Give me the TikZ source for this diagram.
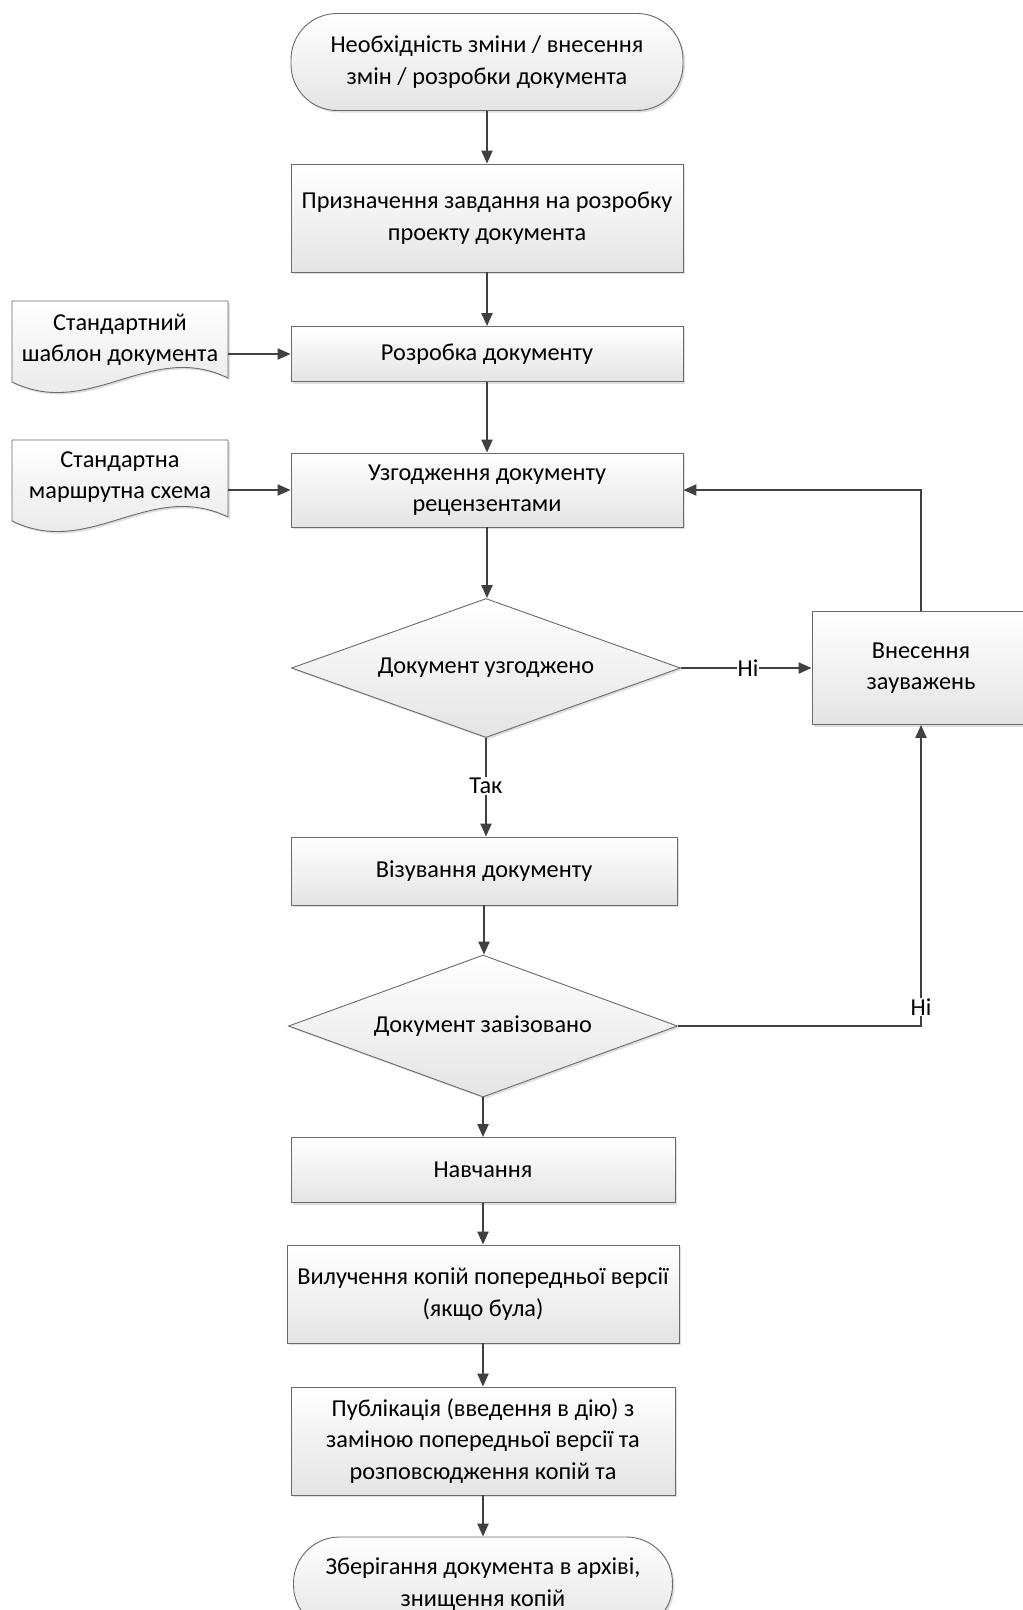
\documentclass[tikz,border=0pt]{standalone}
\usepackage{fontspec}
\setmainfont{Carlito}
\usetikzlibrary{arrows.meta,shapes.geometric,shadows}
\definecolor{linec}{HTML}{404040}
\definecolor{boxc}{HTML}{6A6A6A}
\definecolor{fillc}{HTML}{E4E4E4}
\newcommand{\fsz}{\fontsize{24.3}{31.5}\selectfont}
\begin{document}
\begin{tikzpicture}[x=1pt,y=-1pt,
  shapebase/.style={draw=boxc, line width=0.9pt, top color=white, bottom color=fillc,
    drop shadow={opacity=0.25, shadow xshift=2pt, shadow yshift=-2pt},
    align=center, font=\fsz, inner sep=0pt, text=black},
  procbox/.style={shapebase, rectangle},
  termbox/.style={shapebase, rectangle, rounded corners=46pt},
  decbox/.style={shapebase, diamond, shape aspect=2.8},
  doctext/.style={align=center, font=\fsz, inner sep=0pt, text=black, minimum width=216pt},
  docshape/.style={draw=boxc, line width=0.9pt, top color=white, bottom color=fillc,
    drop shadow={opacity=0.25, shadow xshift=2pt, shadow yshift=-2pt}},
  conn/.style={draw=linec, line width=2.2pt, -{Triangle[length=13pt,width=11pt]}},
  lbl/.style={fill=white, inner sep=1pt, font=\fsz, text=black}
]
\clip (0,0) rectangle (1023,1610);
\fill[white] (0,0) rectangle (1023,1610);

% document shapes (inputs)
\path[docshape] (12,301) -- (228,301) -- (228,378)
  .. controls (150,340) and (90,420) .. (12,382) -- cycle;
\path[docshape] (12,440) -- (228,440) -- (228,517)
  .. controls (150,479) and (90,559) .. (12,521) -- cycle;
\node[doctext] (doc1) at (120,340) {Стандартний\\шаблон документа};
\node[doctext] (doc2) at (120,477) {Стандартна\\маршрутна схема};

% main flow
\node[termbox, minimum width=392pt, minimum height=97pt] (start) at (487,62)
  {Необхідність зміни / внесення\\змін / розробки документа};
\node[procbox, minimum width=392pt, minimum height=108pt] (n1) at (487,218)
  {Призначення завдання на розробку\\проекту документа};
\node[procbox, minimum width=392pt, minimum height=55pt] (n2) at (487,354)
  {Розробка документу};
\node[procbox, minimum width=392pt, minimum height=74pt] (n3) at (487,490)
  {Узгодження документу\\рецензентами};
\node[decbox, minimum width=389pt, minimum height=139pt] (d1) at (486,668)
  {Документ узгоджено};
\node[procbox, minimum width=218pt, minimum height=113pt] (fix) at (921,668)
  {Внесення\\зауважень};
\node[procbox, minimum width=386pt, minimum height=68pt] (n4) at (484,871)
  {Візування документу};
\node[decbox, minimum width=389pt, minimum height=142pt] (d2) at (483,1026)
  {Документ завізовано};
\node[procbox, minimum width=384pt, minimum height=65pt] (n5) at (483,1170)
  {Навчання};
\node[procbox, minimum width=392pt, minimum height=98pt] (n6) at (483,1294)
  {Вилучення копій попередньої версії\\(якщо була)};
\node[procbox, minimum width=384pt, minimum height=108pt] (n7) at (483,1441)
  {Публікація (введення в дію) з\\заміною попередньої версії та\\розповсюдження копій та};
\node[termbox, minimum width=379pt, minimum height=94pt] (fin) at (483,1584)
  {Зберігання документа в архіві,\\знищення копій};

% connectors
\draw[conn] (start.south) -- (n1.north);
\draw[conn] (n1.south) -- (n2.north);
\draw[conn] (n2.south) -- (n3.north);
\draw[conn] (n3.south) -- (n3.south |- d1.north);
\draw[conn] (doc1.east |- n2) -- (n2.west);
\draw[conn] (doc2.east |- n3) -- (n3.west);
\draw[conn] (d1.east) -- (fix.west);
\node[lbl] (no1) at (748,668) {Ні};
\draw[conn] (d1.south) -- (d1.south |- n4.north);
\node[lbl] (yes1) at (486,786) {Так};
\draw[conn] (n4.south) -- (n4.south |- d2.north);
\draw[conn] (d2.east) -- (fix.south |- d2.east) -- (fix.south);
\node[lbl] (no2) at (921,1007) {Ні};
\draw[conn] (fix.north) -- (fix.north |- n3.east) -- (n3.east);
\draw[conn] (d2.south) -- (d2.south |- n5.north);
\draw[conn] (n5.south) -- (n6.north);
\draw[conn] (n6.south) -- (n7.north);
\draw[conn] (n7.south) -- (fin.north);
\end{tikzpicture}
\end{document}
